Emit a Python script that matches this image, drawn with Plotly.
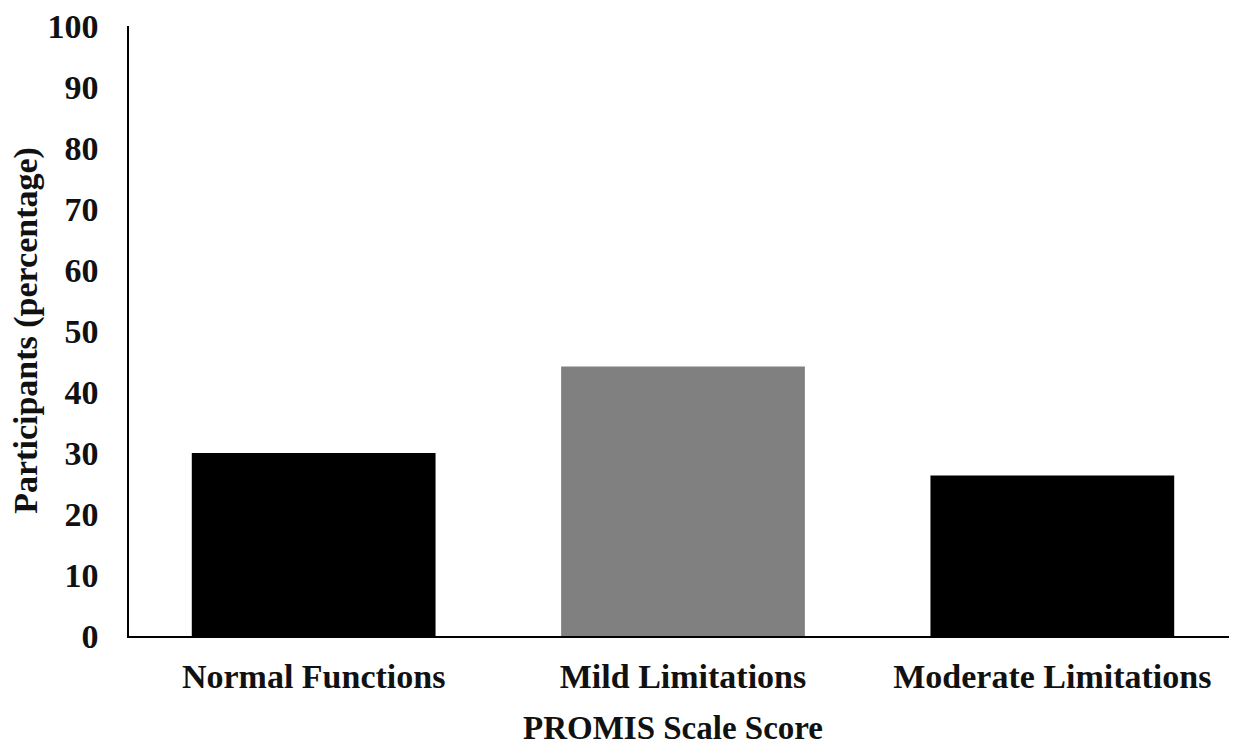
import plotly.graph_objects as go

categories = ["Normal Functions", "Mild Limitations", "Moderate Limitations"]
values = [30, 44.2, 26.3]
colors = ["#000000", "#808080", "#000000"]
y_ticks = [0, 10, 20, 30, 40, 50, 60, 70, 80, 90, 100]

FONT = "Liberation Serif, Times New Roman, serif"

fig = go.Figure(go.Bar(x=categories, y=values, marker=dict(color=colors, line=dict(width=0)), width=0.66))

fig.update_layout(
    width=1229, height=743,
    margin=dict(l=121, r=0, t=14, b=115),
    paper_bgcolor="white", plot_bgcolor="white",
    showlegend=False,
    font=dict(family=FONT, size=34, color="#000000"),
)
fig.update_xaxes(
    showline=True, linecolor="#000000", linewidth=1.5,
    ticks="", showgrid=False, ticklabelstandoff=9,
    tickfont=dict(family=FONT, size=34, color="#111111", weight="bold"),
)
fig.update_yaxes(
    range=[0, 100], tickvals=y_ticks, showline=True, linecolor="#000000", linewidth=1.5,
    ticks="", showgrid=False, zeroline=False, ticklabelstandoff=22,
    ticklabeloverflow="allow",
    tickfont=dict(family=FONT, size=34, color="#111111", weight="bold"),
)
fig.add_annotation(text="<b>Participants (percentage)</b>", xref="paper", yref="paper",
                   x=-0.093, y=0.502, xanchor="center", yanchor="middle", textangle=-90,
                   showarrow=False, font=dict(family=FONT, size=34, color="#111111"))
fig.add_annotation(text="<b>PROMIS Scale Score</b>", xref="paper", yref="paper",
                   x=0.491, y=-0.150, xanchor="center", yanchor="middle",
                   showarrow=False, font=dict(family=FONT, size=33, color="#111111"))

fig.write_html("out.html")
